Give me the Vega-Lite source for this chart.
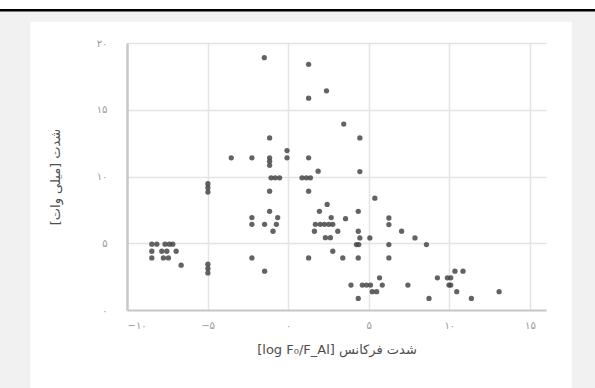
{
  "$schema": "https://vega.github.io/schema/vega-lite/v6.json",
  "autosize": "none",
  "width": 419,
  "height": 267,
  "padding": {"left": 127, "top": 43, "right": 49, "bottom": 78},
  "background": "white",
  "config": {"view": {"stroke": null}, "font": "DejaVu Sans"},
  "datasets": {
    "frame": [
      {"x1": -17.95, "x2": -16.0, "y1": -5.95, "y2": 22.45},
      {"x1": 17.6, "x2": 19.2, "y1": -5.95, "y2": 22.45},
      {"x1": -17.95, "x2": 19.2, "y1": 21.6, "y2": 22.45}
    ],
    "points": [
    {"x": -1.48, "y": 18.9}, {"x": 1.27, "y": 18.4}, {"x": 1.27, "y": 15.87}, {"x": 2.38, "y": 16.42},
    {"x": 3.45, "y": 13.93}, {"x": -1.15, "y": 12.89}, {"x": -0.07, "y": 11.94}, {"x": -0.07, "y": 11.4},
    {"x": -3.53, "y": 11.4}, {"x": -2.25, "y": 11.4}, {"x": -1.15, "y": 11.4}, {"x": -1.15, "y": 11.14},
    {"x": -1.15, "y": 10.84}, {"x": 1.27, "y": 11.4}, {"x": 1.86, "y": 10.4},
    {"x": -1.06, "y": 9.9}, {"x": -0.8, "y": 9.9}, {"x": -0.53, "y": 9.9}, {"x": 0.86, "y": 9.9}, {"x": 1.13, "y": 9.9}, {"x": 1.38, "y": 9.9},
    {"x": -1.15, "y": 8.9}, {"x": 1.27, "y": 8.9},
    {"x": -4.98, "y": 9.46}, {"x": -4.98, "y": 9.16}, {"x": -4.98, "y": 8.83},
    {"x": 2.42, "y": 7.91}, {"x": 1.94, "y": 7.39}, {"x": -1.15, "y": 7.39},
    {"x": -2.25, "y": 6.92}, {"x": -2.25, "y": 6.42}, {"x": -0.65, "y": 6.92}, {"x": -0.73, "y": 6.42}, {"x": -1.46, "y": 6.42},
    {"x": -0.94, "y": 5.9}, {"x": 2.67, "y": 6.92}, {"x": 3.56, "y": 6.84},
    {"x": 1.69, "y": 6.42}, {"x": 1.99, "y": 6.42}, {"x": 2.25, "y": 6.42}, {"x": 2.52, "y": 6.42}, {"x": 2.77, "y": 6.42},
    {"x": 1.63, "y": 5.9}, {"x": 3.08, "y": 5.9}, {"x": 2.31, "y": 5.42}, {"x": 2.62, "y": 5.42},
    {"x": 2.77, "y": 4.4}, {"x": -2.25, "y": 3.9}, {"x": 1.27, "y": 3.9}, {"x": 3.39, "y": 3.9},
    {"x": -1.46, "y": 2.91}, {"x": -4.98, "y": 3.43}, {"x": -4.98, "y": 3.11}, {"x": -4.98, "y": 2.78},
    {"x": -8.46, "y": 4.93}, {"x": -8.15, "y": 4.93}, {"x": -7.64, "y": 4.93}, {"x": -7.37, "y": 4.93}, {"x": -7.16, "y": 4.93},
    {"x": -8.46, "y": 4.4}, {"x": -7.84, "y": 4.4}, {"x": -7.53, "y": 4.4}, {"x": -6.95, "y": 4.4},
    {"x": -8.46, "y": 3.9}, {"x": -7.74, "y": 3.9}, {"x": -7.43, "y": 3.9}, {"x": -6.64, "y": 3.36},
    {"x": 4.45, "y": 12.89}, {"x": 4.45, "y": 10.37}, {"x": 5.38, "y": 8.38}, {"x": 4.35, "y": 7.39},
    {"x": 6.25, "y": 6.89}, {"x": 6.25, "y": 6.4}, {"x": 4.35, "y": 5.9}, {"x": 7.04, "y": 5.9},
    {"x": 4.45, "y": 5.4}, {"x": 5.07, "y": 5.4}, {"x": 7.87, "y": 5.4},
    {"x": 4.24, "y": 4.9}, {"x": 4.38, "y": 4.9}, {"x": 6.25, "y": 4.9}, {"x": 8.58, "y": 4.9},
    {"x": 4.35, "y": 3.9}, {"x": 6.25, "y": 3.9},
    {"x": 10.35, "y": 2.91}, {"x": 10.85, "y": 2.91}, {"x": 9.26, "y": 2.41}, {"x": 9.88, "y": 2.41}, {"x": 10.09, "y": 2.41}, {"x": 5.67, "y": 2.41},
    {"x": 3.9, "y": 1.87}, {"x": 4.6, "y": 1.87}, {"x": 4.86, "y": 1.87}, {"x": 5.11, "y": 1.87}, {"x": 5.84, "y": 1.87}, {"x": 7.43, "y": 1.87}, {"x": 9.98, "y": 1.87}, {"x": 10.09, "y": 1.87},
    {"x": 5.22, "y": 1.37}, {"x": 5.49, "y": 1.37}, {"x": 10.46, "y": 1.37}, {"x": 13.09, "y": 1.37},
    {"x": 4.35, "y": 0.87}, {"x": 8.74, "y": 0.87}, {"x": 11.37, "y": 0.87}
    ]
  },
  "layer": [
    {
      "data": {"name": "frame"},
      "mark": {"type": "rect", "fill": "#f1f1f1", "clip": false},
      "encoding": {
        "x": {"field": "x1", "type": "quantitative"},
        "x2": {"field": "x2"},
        "y": {"field": "y1", "type": "quantitative"},
        "y2": {"field": "y2"}
      }
    },
    {
      "data": {"name": "frame"},
      "transform": [{"filter": "datum.y1 > 20"}],
      "mark": {"type": "rule", "color": "black", "strokeWidth": 2.5, "clip": false},
      "encoding": {
        "x": {"field": "x1", "type": "quantitative"},
        "x2": {"field": "x2"},
        "y": {"field": "y2", "type": "quantitative"}
      }
    },
    {
      "data": {"name": "points"},
      "mark": {"type": "circle", "color": "#484848", "size": 28, "opacity": 0.85},
      "encoding": {
        "x": {
          "field": "x", "type": "quantitative",
          "scale": {"domain": [-10, 16], "nice": false, "zero": false},
          "axis": {
            "values": [-10, -5, 0, 5, 10, 15],
            "title": "[log F₀/F_Al] شدت فرکانس",
            "titleFont": "DejaVu Sans", "titleFontSize": 13, "titleFontWeight": "normal", "titleColor": "#4d4d4d",
            "titlePadding": 13,
            "labelExpr": "replace(replace(replace(replace(datum.label,'0','۰'),'1','۱'),'2','۲'),'5','۵')",
            "labelColor": "#999", "labelFontSize": 10, "labelPadding": 10,
            "ticks": false, "domainColor": "#c8c8c8", "domainWidth": 2,
            "grid": true, "gridColor": "#e4e4e4", "gridWidth": 1.5
          }
        },
        "y": {
          "field": "y", "type": "quantitative",
          "scale": {"domain": [0, 20], "nice": false, "zero": false},
          "axis": {
            "values": [0, 5, 10, 15, 20],
            "title": "شدت [میلی وات]‏",
            "titleFont": "DejaVu Sans", "titleFontSize": 13, "titleFontWeight": "normal", "titleColor": "#4d4d4d",
            "titlePadding": 34,
            "labelExpr": "replace(replace(replace(replace(datum.label,'0','۰'),'1','۱'),'2','۲'),'5','۵')",
            "labelColor": "#999", "labelFontSize": 10, "labelPadding": 20,
            "ticks": false, "domainColor": "#c8c8c8", "domainWidth": 2.5,
            "grid": true, "gridColor": "#e4e4e4", "gridWidth": 1.5
          }
        }
      }
    }
  ]
}
